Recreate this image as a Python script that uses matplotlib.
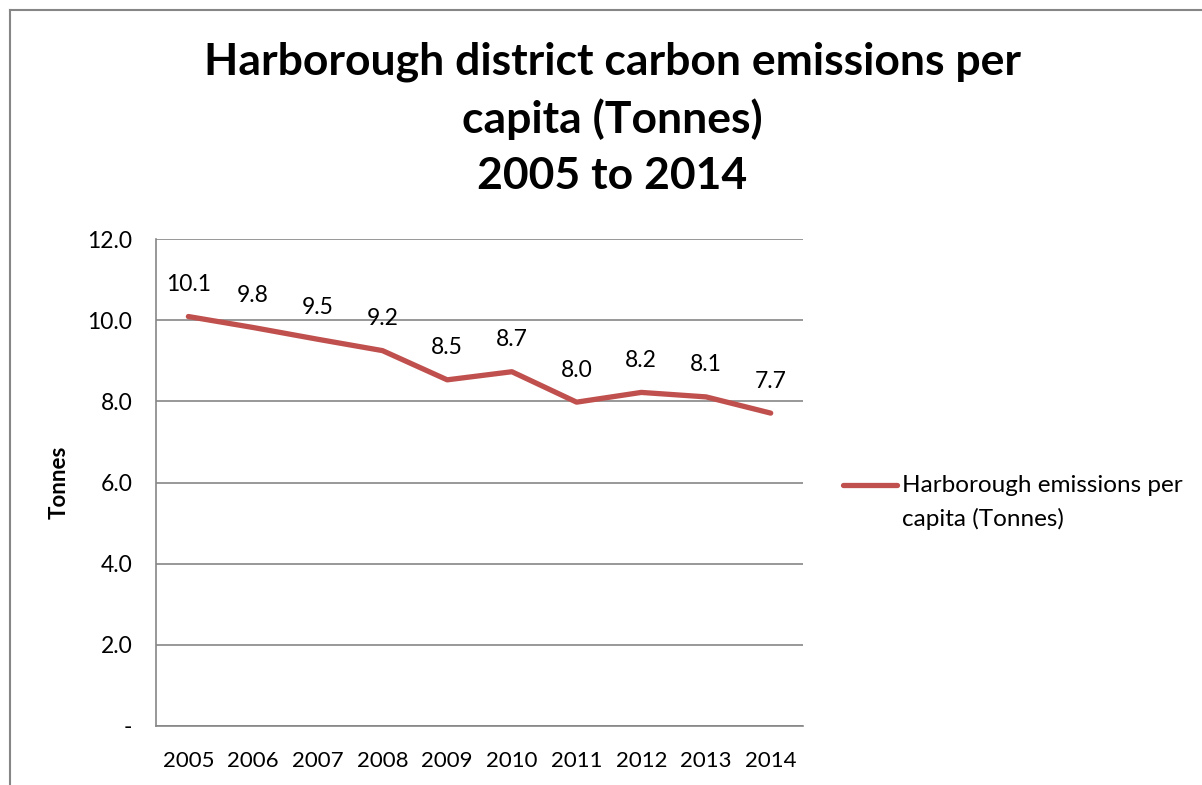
import matplotlib.pyplot as plt
from matplotlib.lines import Line2D

# data
years = ["2005", "2006", "2007", "2008", "2009", "2010", "2011", "2012", "2013", "2014"]
emissions = [10.09, 9.82, 9.53, 9.25, 8.53, 8.73, 7.98, 8.22, 8.11, 7.71]
yticks = [0, 2, 4, 6, 8, 10, 12]
ytick_labels = ["-", "2.0", "4.0", "6.0", "8.0", "10.0", "12.0"]

line_col = "#C0504D"
grid_col = "#868686"

plt.rcParams['font.family'] = ['Lato', 'DejaVu Sans']

fig = plt.figure(figsize=(12.02, 7.85), dpi=100)
ax = fig.add_axes([0.1298, 0.0752, 0.5383, 0.6203])

x = list(range(len(years)))
ax.plot(x, emissions, color=line_col, lw=3.8, solid_capstyle='round', solid_joinstyle='round')

for i, v in enumerate(emissions):
    ax.annotate("%.1f" % v, (i, v), xytext=(0, 23), textcoords='offset points',
                ha='center', va='center', fontsize=16.5)

ax.set_xlim(-0.5, len(years) - 0.5)
ax.set_ylim(0, 12)
ax.set_xticks(x)
ax.set_xticklabels(years, fontsize=16)
ax.set_yticks(yticks)
ax.set_yticklabels(ytick_labels, fontsize=16.5)
ax.tick_params(axis='both', length=0)
ax.tick_params(axis='y', pad=17)
ax.tick_params(axis='x', pad=18)
ax.grid(axis='y', color=grid_col, lw=1.2)
ax.set_axisbelow(True)
for side in ['top', 'right']:
    ax.spines[side].set_visible(False)
for side in ['left', 'bottom']:
    ax.spines[side].set_color(grid_col)
    ax.spines[side].set_linewidth(1.2)

ax.set_ylabel("Tonnes", fontsize=16, fontweight='bold')
ax.yaxis.set_label_coords(-0.134, 0.5)

fig.text(0.5096, 1 - 42 / 785, "Harborough district carbon emissions per\ncapita (Tonnes)\n2005 to 2014",
         ha='center', va='top', fontsize=32, fontweight='bold', linespacing=1.47)

# legend drawn by hand so the line sits on the first text line
fig.add_artist(Line2D([843 / 1202, 897 / 1202], [1 - 485 / 785, 1 - 485 / 785],
                      color=line_col, lw=3.8, solid_capstyle='round'))
fig.text(902 / 1202, 1 - 485 / 785, "Harborough emissions per", ha='left', va='center', fontsize=17.5)
fig.text(902 / 1202, 1 - 519 / 785, "capita (Tonnes)", ha='left', va='center', fontsize=17.5)

# outer chart border (top and left visible)
fig.add_artist(Line2D([10 / 1202, 1.0], [1 - 10 / 785, 1 - 10 / 785], color=grid_col, lw=1.5))
fig.add_artist(Line2D([10 / 1202, 10 / 1202], [0, 1 - 10 / 785], color=grid_col, lw=1.5))

fig.savefig("out.png", dpi=100)
